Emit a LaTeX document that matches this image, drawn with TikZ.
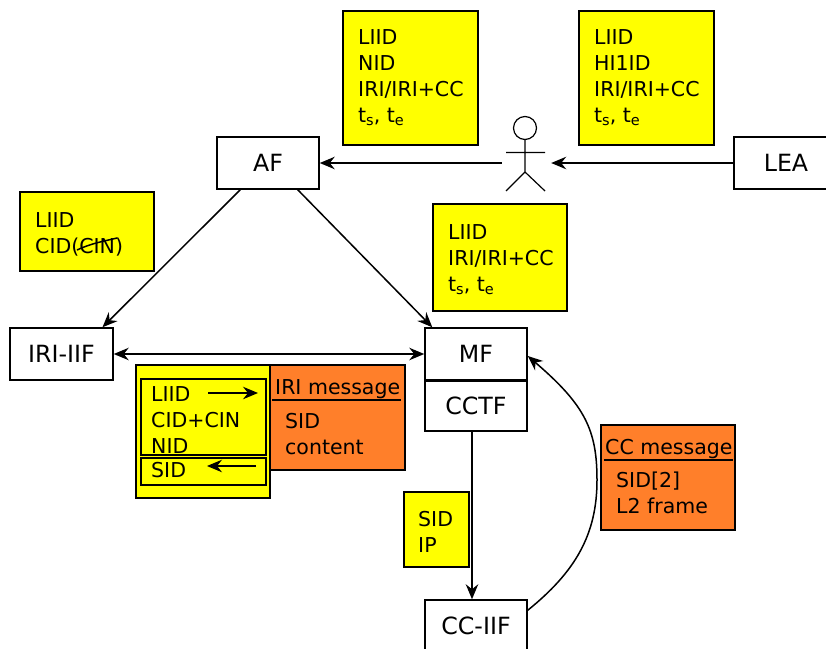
\documentclass[tikz,border=0pt]{standalone}
\usepackage{fontspec}
\setmainfont{DejaVu Sans}
\usetikzlibrary{arrows.meta,calc}
\newcommand{\sbx}[1]{\raisebox{-3pt}{\fontsize{14.5}{14.5}\selectfont #1}}
\definecolor{yel1}{RGB}{255,255,0}
\definecolor{orange1}{RGB}{255,127,42}
\tikzset{
  box/.style={draw=black,line width=1.5pt,fill=white,minimum width=102pt,minimum height=52pt,inner sep=0pt,font=\fontsize{23.7}{26}\selectfont},
  yel/.style={draw=black,line width=1.5pt,fill=yel1},
  org/.style={draw=black,line width=1.5pt,fill=orange1},
  txt/.style={anchor=north west,inner sep=0pt,align=left,font=\fontsize{20.5}{26}\selectfont},
  conn/.style={line width=1.5pt,-{Stealth[length=15pt,width=12.5pt,inset=5pt]}},
  both/.style={line width=1.5pt,{Stealth[length=15pt,width=12.5pt,inset=5pt]}-{Stealth[length=15pt,width=12.5pt,inset=5pt]}}
}
\begin{document}
\begin{tikzpicture}[x=1pt,y=-1pt]
\useasboundingbox (0,0) rectangle (826,648);
\clip (0,0) rectangle (826,648);
% yellow note boxes
\draw[yel] (343,11) rectangle (478,145);
\draw[yel] (579,11) rectangle (714,145);
\draw[yel] (433,204) rectangle (567,311);
\draw[yel] (20,192) rectangle (154,271);
\draw[yel] (136,365) rectangle (270,498);
\draw[yel] (141,379) rectangle (266,455);
\draw[yel] (141,458) rectangle (266,485);
\draw[yel] (404,492) rectangle (469,567);
\draw[org] (270,365) rectangle (405,470);
\draw[org] (601,425) rectangle (735,530);
% note texts
\node[txt] (n1) at (358,29.5) {LIID\\NID\\IRI/IRI+CC\\t\sbx{s}, t\sbx{e}};
\node[txt] (n2) at (594,29.5) {LIID\\HI1ID\\IRI/IRI+CC\\t\sbx{s}, t\sbx{e}};
\node[txt] (n3) at (448,224.5) {LIID\\IRI/IRI+CC\\t\sbx{s}, t\sbx{e}};
\node[txt] (n4) at (35,212) {LIID\\CID(CIN)};
\node[txt] (n5) at (151,386.5) {LIID\\CID+CIN\\NID};
\node[txt] (n6) at (151,462.5) {SID};
\node[txt] (n7) at (418,511) {SID\\IP};
\node[txt] (n8) at (275,379) {IRI message};
\node[txt] (n9) at (285,413) {SID\\content};
\node[txt] (n10) at (605,439) {CC message};
\node[txt] (n11) at (616,472) {SID[2]\\L2 frame};
\draw[line width=1.5pt] (272,400) -- (401,400);
\draw[line width=1.5pt] (604,460) -- (733,460);
\draw[line width=1.5pt] (77,250) .. controls (92,243) and (105,241) .. (117,238);
% system nodes
\node[box] (AF) at (268,163) {AF};
\node[box,minimum width=103pt] (IRI) at (61.5,354) {IRI-IIF};
\node[box] (MF) at (476,354) {MF};
\node[box,minimum height=51pt] (CCTF) at (476,405.5) {CCTF};
\node[box] (CC) at (476,626) {CC-IIF};
\node[box,minimum width=104pt] (LEA) at (786,163) {LEA};
\draw[line width=2.6pt] (MF.south west) -- (MF.south east);
% actor
\node[minimum width=49pt,minimum height=10pt,inner sep=0pt] (actor) at (526.5,163) {};
\node[draw=black,line width=1.2pt,circle,minimum size=23pt,inner sep=0pt] (head) at (525,128) {};
\draw[line width=1.2pt] (head.south) -- (525,172) (506,152.5) -- (545,152.5) (506,191) -- (525,172) -- (545,191);
% connectors
\draw[conn] (LEA.west) -- (actor.east);
\draw[conn] (actor.west) -- (AF.east);
\draw[conn] ($(AF.south west)+(24,0)$) -- ($(IRI.north)+(41,0)$);
\draw[conn] ($(AF.south east)+(-22,0)$) -- ($(MF.north west)+(8,0)$);
\draw[both] (IRI.east) -- (MF.west);
\draw[conn] ($(CCTF.south)+(-4,0)$) -- ($(CC.north)+(-4,0)$);
\draw[conn] ($(CC.north east)+(0,11)$) .. controls (575,572) and (597,535) .. (597,480) .. controls (597,430) and (585,405) .. ($(MF.east)+(0,2)$);
\coordinate (a1) at (208,393); \coordinate (a2) at (258,393);
\coordinate (b1) at (256,466); \coordinate (b2) at (207,466);
\draw[conn,line width=1.2pt] (a1) -- (a2);
\draw[conn,line width=1.2pt] (b1) -- (b2);
\end{tikzpicture}
\end{document}
